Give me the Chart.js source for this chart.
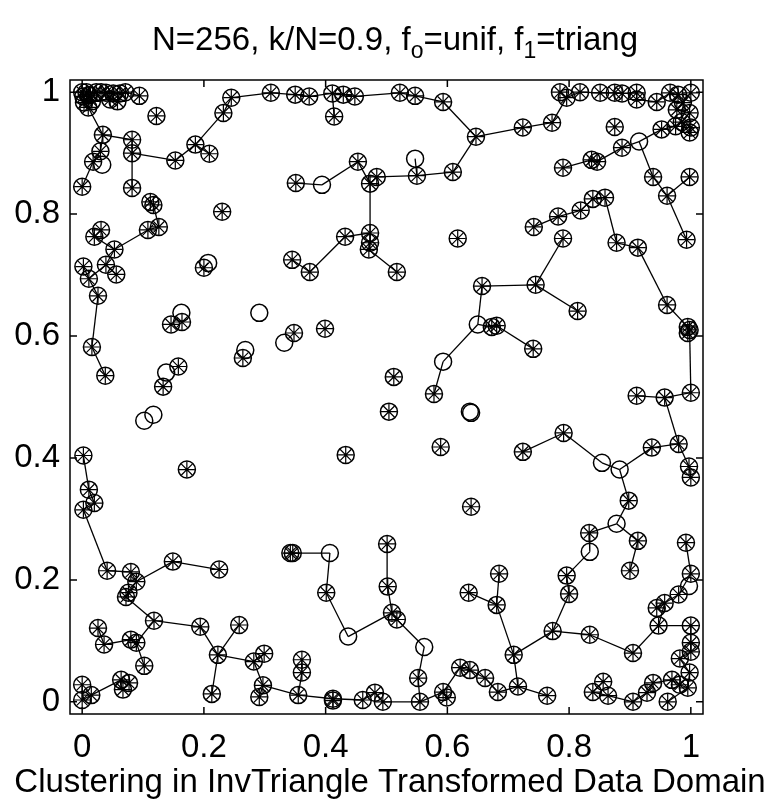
<!DOCTYPE html>
<html>
<head>
<meta charset="utf-8">
<script src="https://cdn.jsdelivr.net/npm/chart.js@4/dist/chart.umd.min.js"></script>
<style>
  html, body { margin: 0; padding: 0; background: #fff; }
  #wrap { width: 780px; height: 804px; }
</style>
</head>
<body>
<div id="wrap"><canvas id="clusterChart" width="780" height="804"></canvas></div>
<script>
// point coordinates (x, y), index = point number - 1
const xVals = [
  0.000, 0.002, 0.007, 0.011, 0.003, 0.010, 0.023, 0.031, 0.039, 0.046,
  0.051, 0.062, 0.071, 0.094, 0.122, 0.034, 0.082, 0.030, 0.018, 0.033,
  0.082, 0.000, 0.082, 0.112, 0.117, 0.153, 0.186, 0.209, 0.232, 0.245,
  0.310, 0.230, 0.108, 0.126, 0.031, 0.020, 0.053, 0.002, 0.039, 0.011,
  0.056, 0.026, 0.200, 0.207, 0.345, 0.350, 0.373, 0.411, 0.429, 0.448,
  0.522, 0.547, 0.593, 0.414, 0.647, 0.609, 0.550, 0.547, 0.484, 0.473,
  0.453, 0.394, 0.351, 0.473, 0.473, 0.471, 0.432, 0.374, 0.517, 0.617,
  0.657, 0.785, 0.796, 0.818, 0.851, 0.875, 0.887, 0.911, 0.911, 0.944,
  0.966, 0.979, 0.987, 1.000, 0.977, 0.998, 0.985, 1.000, 0.998, 0.952,
  0.875, 0.772, 0.724, 0.887, 0.915, 0.846, 0.837, 0.790, 0.938, 0.998,
  0.961, 0.859, 0.839, 0.819, 0.782, 0.742, 0.790, 0.878, 0.913, 0.993,
  0.745, 0.961, 0.016, 0.038, 0.163, 0.164, 0.146, 0.291, 0.268, 0.264,
  0.332, 0.158, 0.138, 0.133, 0.117, 0.102, 0.002, 0.172, 0.348, 0.399,
  0.650, 0.673, 0.681, 0.593, 0.578, 0.512, 0.504, 0.637, 0.639, 0.589,
  0.433, 0.639, 0.814, 0.741, 0.995, 0.995, 0.998, 1.000, 0.957, 0.911,
  0.980, 0.997, 1.000, 0.936, 0.883, 0.854, 0.791, 0.724, 0.898, 0.002,
  0.020, 0.011, 0.041, 0.080, 0.089, 0.076, 0.072, 0.149, 0.225, 0.118,
  0.194, 0.258, 0.223, 0.282, 0.299, 0.297, 0.291, 0.213, 0.026, 0.036,
  0.080, 0.089, 0.102, 0.064, 0.077, 0.067, 0.000, 0.000, 0.015, 0.346,
  0.342, 0.407, 0.401, 0.437, 0.501, 0.502, 0.509, 0.517, 0.562, 0.552,
  0.555, 0.635, 0.681, 0.685, 0.361, 0.361, 0.355, 0.412, 0.412, 0.461,
  0.481, 0.494, 0.593, 0.599, 0.621, 0.637, 0.662, 0.683, 0.878, 0.833,
  0.834, 0.913, 0.900, 0.992, 1.000, 0.997, 0.980, 0.957, 0.944, 0.796,
  0.800, 0.016, 0.058, 0.773, 0.834, 0.905, 0.947, 1.000, 1.000, 1.000,
  0.982, 0.709, 0.716, 0.975, 0.764, 0.856, 0.839, 0.864, 0.905, 0.928,
  0.938, 0.962, 0.969, 0.982, 0.998, 0.995
];
const yVals = [
  1.000, 0.993, 1.000, 0.995, 0.983, 0.975, 1.000, 1.000, 0.999, 0.988,
  0.998, 0.998, 1.000, 0.994, 0.961, 0.930, 0.922, 0.903, 0.886, 0.881,
  0.900, 0.845, 0.843, 0.820, 0.815, 0.888, 0.914, 0.899, 0.966, 0.991,
  0.999, 0.804, 0.774, 0.779, 0.774, 0.763, 0.742, 0.714, 0.717, 0.694,
  0.701, 0.666, 0.712, 0.720, 0.725, 0.996, 0.993, 0.998, 0.996, 0.993,
  0.999, 0.994, 0.984, 0.960, 0.927, 0.869, 0.863, 0.891, 0.861, 0.850,
  0.886, 0.848, 0.851, 0.769, 0.753, 0.742, 0.763, 0.705, 0.705, 0.760,
  0.682, 1.000, 0.991, 1.000, 0.999, 0.999, 0.998, 0.999, 0.988, 0.984,
  0.999, 0.996, 0.983, 0.999, 0.971, 0.966, 0.951, 0.942, 0.934, 0.939,
  0.943, 0.950, 0.942, 0.909, 0.919, 0.886, 0.889, 0.876, 0.861, 0.861,
  0.830, 0.827, 0.825, 0.806, 0.796, 0.779, 0.760, 0.753, 0.745, 0.758,
  0.684, 0.651, 0.582, 0.535, 0.638, 0.623, 0.619, 0.638, 0.577, 0.564,
  0.589, 0.550, 0.540, 0.517, 0.471, 0.461, 0.404, 0.381, 0.605, 0.612,
  0.619, 0.615, 0.617, 0.558, 0.505, 0.533, 0.476, 0.476, 0.474, 0.418,
  0.405, 0.320, 0.641, 0.579, 0.615, 0.605, 0.610, 0.507, 0.499, 0.502,
  0.423, 0.386, 0.368, 0.417, 0.381, 0.392, 0.441, 0.410, 0.330, 0.315,
  0.326, 0.348, 0.215, 0.213, 0.197, 0.179, 0.172, 0.230, 0.217, 0.133,
  0.123, 0.126, 0.077, 0.066, 0.079, 0.027, 0.008, 0.013, 0.121, 0.094,
  0.102, 0.097, 0.059, 0.036, 0.031, 0.020, 0.028, 0.003, 0.011, 0.244,
  0.244, 0.244, 0.179, 0.107, 0.259, 0.189, 0.146, 0.135, 0.090, 0.039,
  0.000, 0.179, 0.159, 0.210, 0.069, 0.048, 0.011, 0.005, 0.002, 0.003,
  0.015, 0.000, 0.016, 0.007, 0.056, 0.052, 0.039, 0.016, 0.292, 0.277,
  0.246, 0.264, 0.215, 0.261, 0.210, 0.190, 0.176, 0.162, 0.154, 0.207,
  0.177, 0.985, 0.985, 0.116, 0.110, 0.080, 0.125, 0.125, 0.097, 0.082,
  0.071, 0.077, 0.025, 0.944, 0.010, 0.033, 0.016, 0.010, 0.000, 0.015,
  0.031, 0.000, 0.036, 0.028, 0.048, 0.023
];
// points drawn as a bare circle (no asterisk), by point number
const plainPoints = [20, 44, 58, 62, 95, 115, 118, 119, 121, 123, 125, 126, 131, 134,
  138, 139, 155, 156, 192, 194, 199, 219, 221, 226];

// links between points (point numbers)
const edgeFrom = [1, 2, 3, 4, 7, 8, 9, 11, 12, 13, 2, 5, 9, 5, 10,
  6, 16, 16, 18, 19, 17, 21, 21, 26, 27, 27, 29, 30,
  24, 25, 33, 33, 35, 36, 37, 39, 38, 40, 42, 113, 39, 43,
  45, 68, 67, 64, 65, 66, 64, 60, 60, 61, 62, 59, 57, 57, 56, 55, 53, 52, 51, 50, 49, 48, 47, 46, 48,
  55, 93, 92, 72, 73, 74, 75, 76, 77, 78, 79, 80, 81, 82, 83, 83, 85, 86, 87, 88, 87, 90, 90, 95, 94, 96, 97, 95, 99, 101, 101,
  102, 103, 104, 105, 102, 108, 107, 111, 111, 109, 112, 145, 146, 147, 148, 149, 149, 151, 152, 151, 154, 155, 156, 157, 155,
  71, 131, 132, 131, 134, 133,
  127, 162, 161, 160, 163, 164, 165, 168, 165, 166, 167, 170, 171, 173, 173, 174, 174, 176, 173, 176, 170, 182, 180, 179, 181, 184, 184, 185, 187, 188,
  190, 191, 192, 193, 194, 197, 196, 197, 198, 199, 200, 207, 208, 208, 210, 211, 212, 201, 213, 213, 215, 216, 217, 205, 206, 202,
  159, 219, 219, 222, 220, 221, 230, 231, 234, 242, 203, 234, 235, 236, 237, 237, 228, 227, 225, 229, 242, 243, 243,
  238, 239, 240, 241, 255, 254, 253, 251, 250, 249, 248, 247, 246, 252];
const edgeTo = [2, 3, 4, 7, 8, 9, 11, 12, 13, 14, 5, 6, 10, 232, 233,
  16, 17, 18, 19, 22, 21, 23, 26, 27, 28, 29, 30, 31,
  25, 34, 34, 37, 36, 37, 39, 40, 40, 42, 113, 114, 41, 44,
  68, 67, 64, 65, 66, 69, 60, 59, 61, 62, 63, 57, 56, 58, 55, 53, 52, 51, 50, 49, 48, 47, 46, 31, 54,
  93, 92, 73, 73, 74, 75, 76, 77, 78, 79, 80, 81, 82, 83, 84, 85, 86, 87, 88, 89, 244, 244, 95, 94, 96, 97, 98, 99, 101, 100, 110,
  103, 104, 105, 106, 108, 109, 111, 71, 143, 112, 145, 146, 147, 148, 149, 150, 151, 152, 153, 154, 155, 156, 157, 158, 159,
  131, 132, 133, 134, 135, 144,
  162, 161, 160, 163, 164, 165, 168, 169, 166, 167, 170, 171, 173, 172, 174, 175, 176, 177, 178, 207, 182, 183, 181, 180, 182, 189, 185, 186, 188, 189,
  191, 192, 193, 194, 197, 196, 195, 198, 199, 200, 201, 208, 209, 210, 211, 212, 201, 213, 214, 215, 216, 217, 218, 206, 207, 203,
  219, 220, 222, 223, 221, 230, 231, 234, 242, 203, 204, 235, 236, 237, 238, 228, 227, 225, 224, 228, 243, 245, 218,
  239, 240, 241, 255, 256, 256, 254, 253, 251, 250, 249, 248, 247, 256];

const tickVals = [0, 0.2, 0.4, 0.6, 0.8, 1];
const tickLabels = ['0', '0.2', '0.4', '0.6', '0.8', '1'];
const axisMin = -0.02;
const axisMax = 1.02;

const FONT = "'Liberation Sans', Arial, Helvetica, sans-serif";
const xTitle = 'Clustering in InvTriangle Transformed Data Domain';
// title pieces: [text, isSubscript]
const titleParts = [['N=256, k/N=0.9, f', false], ['o', true], ['=unif, f', false], ['1', true], ['=triang', false]];

const allPoints = xVals.map((x, i) => ({ x: x, y: yVals[i] }));
const starPoints = allPoints.filter((p, i) => !plainPoints.includes(i + 1));

const edgeSets = edgeFrom.map((a, i) => ({
  type: 'scatter',
  data: [allPoints[a - 1], allPoints[edgeTo[i] - 1]],
  showLine: true,
  borderColor: '#000',
  borderWidth: 1.3,
  pointRadius: 0,
  fill: false,
}));

// box round the axes, inward ticks on all four sides, the subscripted title and the x label
const boxPlugin = {
  id: 'box',
  afterDraw(chart) {
    const { ctx, chartArea: a, scales } = chart;
    ctx.save();
    ctx.strokeStyle = '#000';
    ctx.lineWidth = 1.5;
    ctx.strokeRect(a.left, a.top, a.right - a.left, a.bottom - a.top);
    ctx.beginPath();
    const tl = 7;
    tickVals.forEach(v => {
      const px = scales.x.getPixelForValue(v);
      ctx.moveTo(px, a.bottom); ctx.lineTo(px, a.bottom - tl);
      ctx.moveTo(px, a.top); ctx.lineTo(px, a.top + tl);
      const py = scales.y.getPixelForValue(v);
      ctx.moveTo(a.left, py); ctx.lineTo(a.left + tl, py);
      ctx.moveTo(a.right, py); ctx.lineTo(a.right - tl, py);
    });
    ctx.stroke();

    // title
    const big = '33px ' + FONT;
    const small = '23px ' + FONT;
    let total = 0;
    titleParts.forEach(([t, sub]) => {
      ctx.font = sub ? small : big;
      total += ctx.measureText(t).width;
    });
    let x = 395 - total / 2;
    const base = 50;
    ctx.fillStyle = '#000';
    ctx.textBaseline = 'alphabetic';
    ctx.textAlign = 'left';
    titleParts.forEach(([t, sub]) => {
      ctx.font = sub ? small : big;
      ctx.fillText(t, x, sub ? base + 8 : base);
      x += ctx.measureText(t).width;
    });

    // x axis label
    ctx.font = '33px ' + FONT;
    ctx.textAlign = 'center';
    ctx.textBaseline = 'middle';
    ctx.fillText(xTitle, 390, 783);
    ctx.restore();
  }
};

const setTicks = (scale) => {
  scale.ticks = tickVals.map(v => ({ value: v }));
};

new Chart(document.getElementById('clusterChart'), {
  type: 'scatter',
  data: {
    datasets: [
      ...edgeSets,
      {
        data: allPoints,
        pointStyle: 'circle',
        pointRadius: 8.5,
        borderColor: '#000',
        backgroundColor: 'rgba(0,0,0,0)',
        borderWidth: 1.5,
      },
      {
        data: starPoints,
        pointStyle: 'star',
        pointRadius: 8,
        borderColor: '#000',
        backgroundColor: 'rgba(0,0,0,0)',
        borderWidth: 1.2,
      },
    ]
  },
  options: {
    responsive: false,
    animation: false,
    devicePixelRatio: 1,
    events: [],
    layout: { padding: { top: 80, right: 77, left: 0, bottom: 0 } },
    plugins: {
      legend: { display: false },
      tooltip: { enabled: false },
      title: { display: false },
    },
    scales: {
      x: {
        type: 'linear',
        min: axisMin,
        max: axisMax,
        afterBuildTicks: setTicks,
        afterFit: (s) => { s.height = 90; },
        grid: { display: false, drawTicks: false },
        border: { display: false },
        ticks: {
          autoSkip: false,
          maxRotation: 0,
          padding: 14,
          color: '#000',
          font: { family: FONT, size: 33 },
          callback: (v) => tickLabels[tickVals.indexOf(v)] ?? '',
        },
        title: { display: false },
      },
      y: {
        type: 'linear',
        min: axisMin,
        max: axisMax,
        afterBuildTicks: setTicks,
        afterFit: (s) => { s.width = 70; },
        grid: { display: false, drawTicks: false },
        border: { display: false },
        ticks: {
          autoSkip: false,
          padding: 10,
          color: '#000',
          font: { family: FONT, size: 33 },
          callback: (v) => tickLabels[tickVals.indexOf(v)] ?? '',
        },
      },
    },
  },
  plugins: [boxPlugin],
});
</script>
</body>
</html>
